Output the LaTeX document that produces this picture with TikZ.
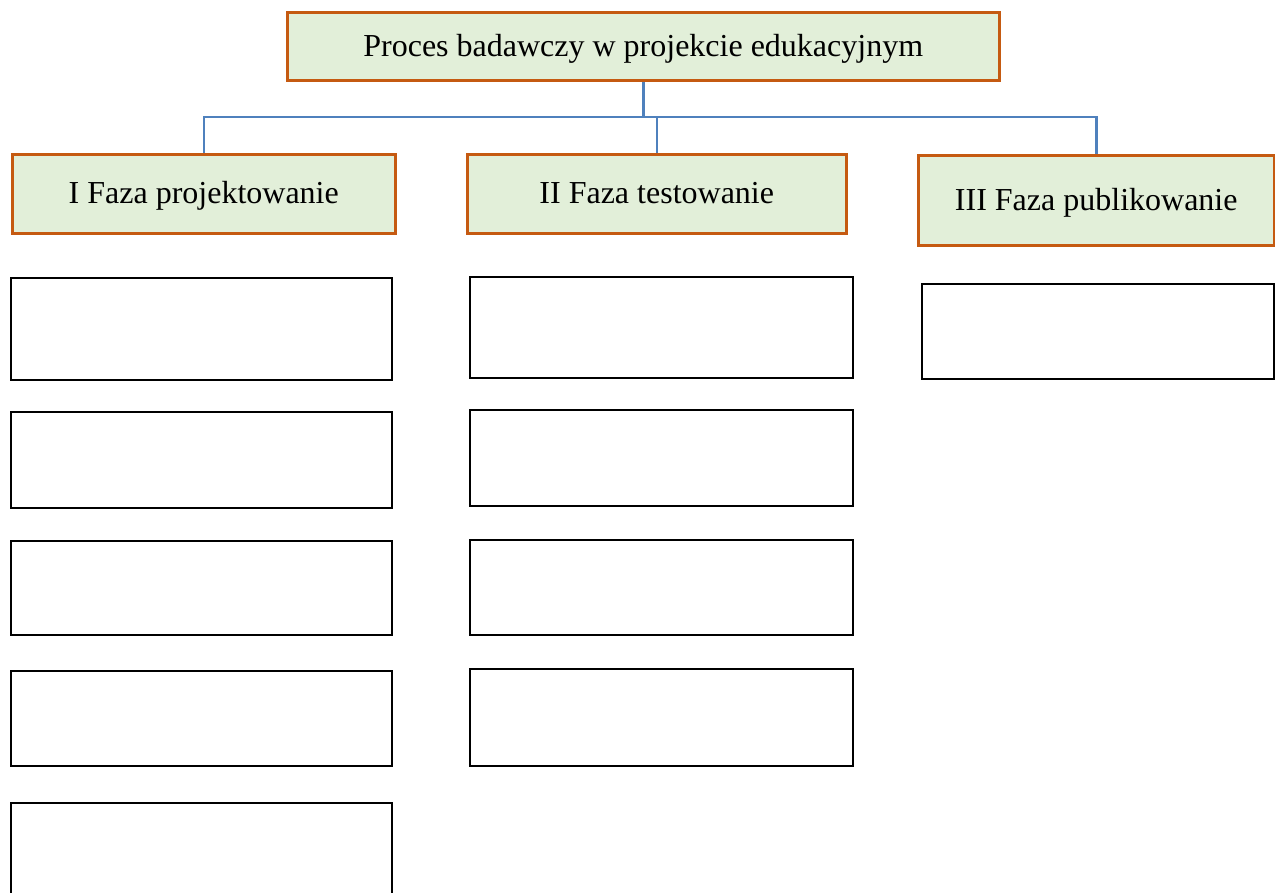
\documentclass[tikz,border=0pt]{standalone}
\usepackage{fontspec}
\setmainfont{Liberation Serif}
\definecolor{boxfill}{HTML}{E2EFD9}
\definecolor{boxline}{HTML}{C55A11}
\definecolor{conn}{HTML}{4F81BD}
\begin{document}
\begin{tikzpicture}[x=1pt,y=-1pt,
  phase/.style={draw=boxline, fill=boxfill, line width=2.5pt, anchor=north west, inner sep=0pt, text height=24pt, text depth=4pt, font=\fontsize{32}{38}\selectfont},
  empty/.style={draw=black, line width=2pt, anchor=north west, inner sep=0pt},
  link/.style={draw=conn, line width=2.5pt}]
\useasboundingbox (0,0) rectangle (1275,892);
\clip (0,0) rectangle (1275,892);
% header and phases
\node[phase, minimum width=712pt, minimum height=68pt] (top) at (286,11) {Proces badawczy w projekcie edukacyjnym};
\node[phase, minimum width=383pt, minimum height=79pt] (p1) at (11,153) {I Faza projektowanie};
\node[phase, minimum width=379pt, minimum height=79pt] (p2) at (466,153) {II Faza testowanie};
\node[phase, minimum width=356pt, minimum height=90pt] (p3) at (917,154) {III Faza publikowanie};
% connectors
\coordinate (bus) at (642,117);
\draw[link] (top.south) -- (top.south |- bus);
\draw[link] (p1.north) -- (p1.north |- bus) -- (p3.north |- bus) -- (p3.north);
\draw[link] (p2.north) -- (p2.north |- bus);
% column 1
\node[empty, minimum width=381pt, minimum height=102pt] (a1) at (10,277) {};
\node[empty, minimum width=381pt, minimum height=96pt] (a2) at (10,411) {};
\node[empty, minimum width=381pt, minimum height=94pt] (a3) at (10,540) {};
\node[empty, minimum width=381pt, minimum height=95pt] (a4) at (10,670) {};
\node[empty, minimum width=381pt, minimum height=110pt] (a5) at (10,802) {};
% column 2
\node[empty, minimum width=383pt, minimum height=101pt] (b1) at (469,276) {};
\node[empty, minimum width=383pt, minimum height=96pt] (b2) at (469,409) {};
\node[empty, minimum width=383pt, minimum height=95pt] (b3) at (469,539) {};
\node[empty, minimum width=383pt, minimum height=97pt] (b4) at (469,668) {};
% column 3
\node[empty, minimum width=352pt, minimum height=95pt] (c1) at (921,283) {};
\end{tikzpicture}
\end{document}
